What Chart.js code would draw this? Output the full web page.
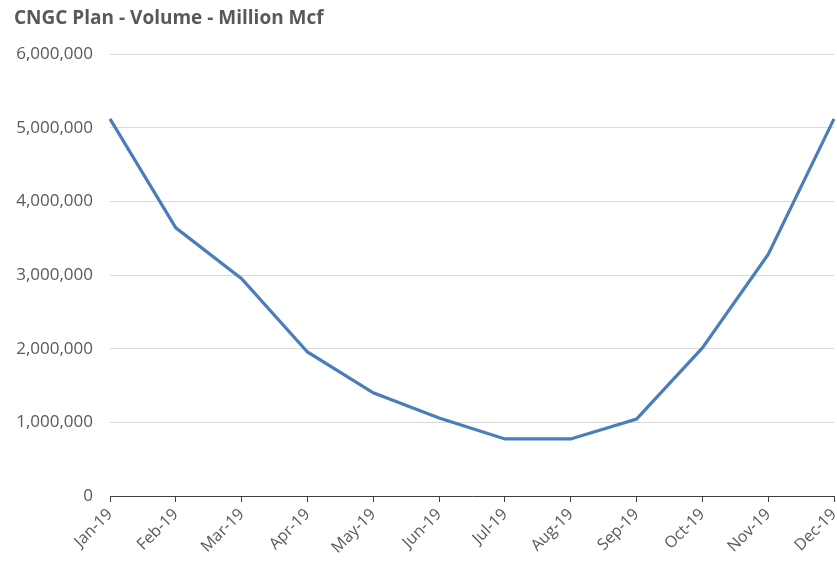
<!DOCTYPE html>
<html>
<head>
<meta charset="utf-8">
<script src="https://cdn.jsdelivr.net/npm/chart.js@4"></script>
<style>
  html, body { margin: 0; padding: 0; background: #fff; }
  #wrap { width: 837px; height: 564px; }
</style>
</head>
<body>
<div id="wrap"><canvas id="volumeCanvas" width="837" height="564"></canvas></div>
<script>
// Monthly plan volumes
const months = ['Jan-19', 'Feb-19', 'Mar-19', 'Apr-19', 'May-19', 'Jun-19',
                'Jul-19', 'Aug-19', 'Sep-19', 'Oct-19', 'Nov-19', 'Dec-19'];
const volumes = [5120000, 3640000, 2950000, 1955000, 1400000, 1060000,
                 775000, 775000, 1045000, 2010000, 3280000, 5120000];
const yTicks = [0, 1000000, 2000000, 3000000, 4000000, 5000000, 6000000];

const textColor = '#595959';
const fontFamily = "'Open Sans', 'Liberation Sans', sans-serif";

const config = {
  type: 'line',
  data: {
    labels: months,
    datasets: [{
      label: 'Volume',
      data: volumes,
      borderColor: '#4a7ebb',
      borderWidth: 3.2,
      pointRadius: 0,
      fill: false,
      tension: 0
    }]
  },
  options: {
    responsive: false,
    animation: false,
    layout: { padding: { top: 0, left: 14, right: 3, bottom: 2 } },
    plugins: {
      legend: { display: false },
      tooltip: { enabled: false },
      title: {
        display: true,
        text: 'CNGC Plan - Volume - Million Mcf',
        align: 'start',
        color: textColor,
        font: { family: fontFamily, size: 19, weight: 'bold', lineHeight: 1.2 },
        padding: { top: 7, bottom: 24.2 }
      }
    },
    scales: {
      x: {
        offset: false,
        border: { display: true, color: '#404040', width: 1 },
        grid: {
          display: true,
          drawOnChartArea: false,
          drawTicks: true,
          tickLength: 6,
          color: '#404040'
        },
        ticks: {
          color: textColor,
          minRotation: 45,
          maxRotation: 45,
          padding: 3,
          font: { family: fontFamily, size: 16 }
        },
        afterFit: scale => {
          scale.height = 66;
          scale.paddingLeft = 0;
          scale.paddingRight = 0;
        }
      },
      y: {
        min: 0,
        max: 6000000,
        border: { display: false },
        grid: { color: '#d9d9d9', drawTicks: false },
        afterBuildTicks: scale => { scale.ticks = yTicks.map(v => ({ value: v })); },
        ticks: {
          color: textColor,
          padding: 17,
          font: { family: fontFamily, size: 17 },
          callback: v => v.toLocaleString('en-US')
        },
        afterFit: scale => { scale.width = 96; }
      }
    }
  }
};

new Chart(document.getElementById('volumeCanvas'), config);
</script>
</body>
</html>
